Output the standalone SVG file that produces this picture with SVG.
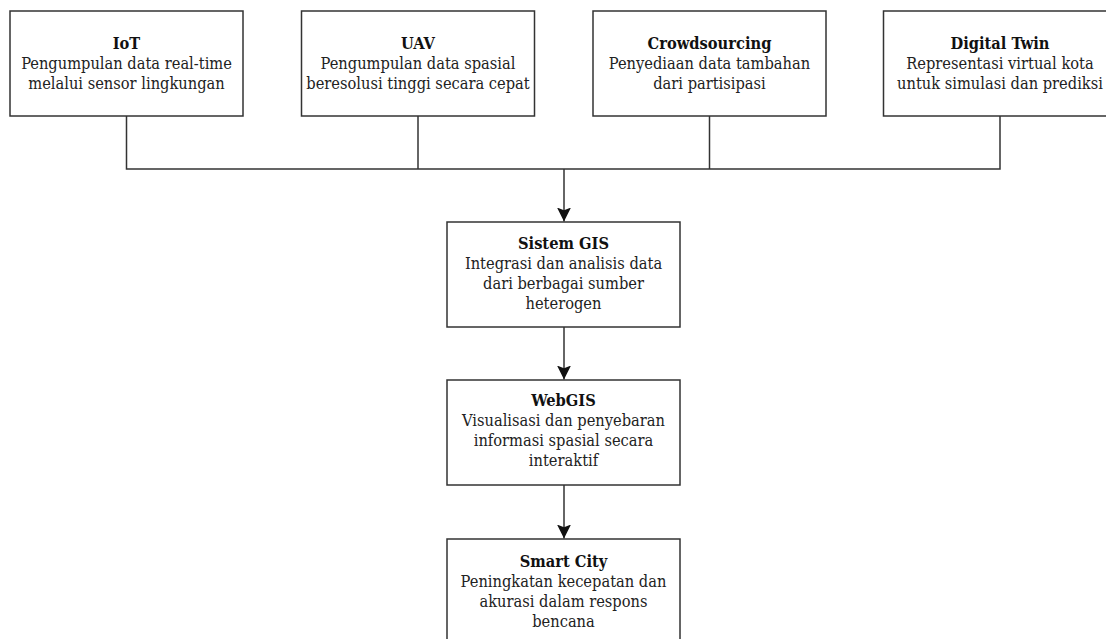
<svg xmlns="http://www.w3.org/2000/svg" width="1106" height="639" viewBox="0 0 1106 639">
<style>
.box{fill:#fff;stroke:#333;stroke-width:1.5}
.t{font-family:"DejaVu Serif Condensed","DejaVu Serif",serif;font-stretch:condensed;font-size:16.3px;font-weight:bold;fill:#111;text-anchor:middle}
.b{font-family:"DejaVu Serif Condensed","DejaVu Serif",serif;font-stretch:condensed;font-size:16.3px;fill:#222;text-anchor:middle}
.ln{fill:none;stroke:#333;stroke-width:1.5}
</style>
<defs>
<marker id="ah" viewBox="0 0 10 10" refX="10" refY="5" markerWidth="14" markerHeight="14" markerUnits="userSpaceOnUse" orient="auto">
<path d="M0,0 L10,5 L0,10 L2,5 Z" fill="#111"/>
</marker>
</defs>
<rect width="1106" height="639" fill="#fff"/>
<g id="connectors">
<path class="ln" d="M126.5,116 V169 H1000 V116"/>
<path class="ln" d="M418,116 V169"/>
<path class="ln" d="M709.5,116 V169"/>
<path class="ln" d="M564,169 V221.5" marker-end="url(#ah)"/>
<path class="ln" d="M564,327 V379.5" marker-end="url(#ah)"/>
<path class="ln" d="M564,485 V538.5" marker-end="url(#ah)"/>
</g>
<g id="iot">
<rect class="box" x="10" y="11" width="233" height="105"/>
<text class="t" x="126.5" y="48.5">IoT</text>
<text class="b" x="126.5" y="68.5">Pengumpulan data real-time</text>
<text class="b" x="126.5" y="88.5">melalui sensor lingkungan</text>
</g>
<g id="uav">
<rect class="box" x="301.5" y="11" width="233" height="105"/>
<text class="t" x="418" y="48.5">UAV</text>
<text class="b" x="418" y="68.5">Pengumpulan data spasial</text>
<text class="b" x="418" y="88.5">beresolusi tinggi secara cepat</text>
</g>
<g id="crowdsourcing">
<rect class="box" x="593" y="11" width="233" height="105"/>
<text class="t" x="709.5" y="48.5">Crowdsourcing</text>
<text class="b" x="709.5" y="68.5">Penyediaan data tambahan</text>
<text class="b" x="709.5" y="88.5">dari partisipasi</text>
</g>
<g id="digital-twin">
<rect class="box" x="883.5" y="11" width="233" height="105"/>
<text class="t" x="1000" y="48.5">Digital Twin</text>
<text class="b" x="1000" y="68.5">Representasi virtual kota</text>
<text class="b" x="1000" y="88.5">untuk simulasi dan prediksi</text>
</g>
<g id="sistem-gis">
<rect class="box" x="447" y="222" width="233" height="105"/>
<text class="t" x="563.5" y="249.3">Sistem GIS</text>
<text class="b" x="563.5" y="269.3">Integrasi dan analisis data</text>
<text class="b" x="563.5" y="289.3">dari berbagai sumber</text>
<text class="b" x="563.5" y="309.3">heterogen</text>
</g>
<g id="webgis">
<rect class="box" x="447" y="380" width="233" height="105"/>
<text class="t" x="563.5" y="406">WebGIS</text>
<text class="b" x="563.5" y="426">Visualisasi dan penyebaran</text>
<text class="b" x="563.5" y="446">informasi spasial secara</text>
<text class="b" x="563.5" y="466">interaktif</text>
</g>
<g id="smart-city">
<rect class="box" x="447" y="539" width="233" height="105"/>
<text class="t" x="563.5" y="566.5">Smart City</text>
<text class="b" x="563.5" y="586.5">Peningkatan kecepatan dan</text>
<text class="b" x="563.5" y="606.5">akurasi dalam respons</text>
<text class="b" x="563.5" y="626.5">bencana</text>
</g>
</svg>
